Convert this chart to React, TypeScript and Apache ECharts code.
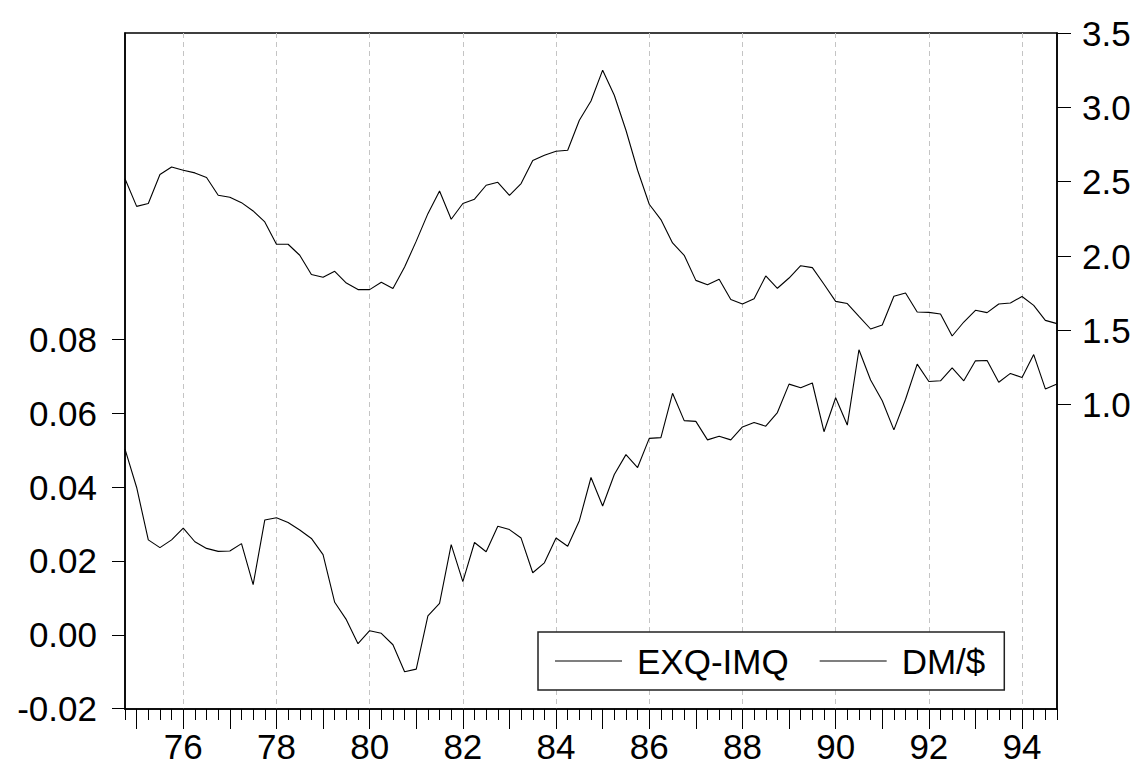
import React, { useEffect, useRef } from "react";
import * as echarts from "echarts";

// Quarterly observations 1974Q4 .. 1994Q4
const startYear = 1974;
const startQuarter = 4;
const quarterCount = 81;
const categories: string[] = [];
for (let i = 0; i < quarterCount; i++) {
  const q = startQuarter - 1 + i;
  categories.push(`${startYear + Math.floor(q / 4)}Q${(q % 4) + 1}`);
}

const exqImq = [
  0.0503, 0.0399, 0.0257, 0.0236, 0.0257, 0.0289, 0.0252, 0.0234, 0.0226, 0.0227,
  0.0247, 0.0136, 0.0311, 0.0317, 0.0304, 0.0284, 0.0261, 0.0217, 0.0088, 0.0041,
  -0.0024, 0.0011, 0.0004, -0.0027, -0.01, -0.0093, 0.0051, 0.0085, 0.0244, 0.0144,
  0.025, 0.0225, 0.0294, 0.0285, 0.0262, 0.0168, 0.0195, 0.0262, 0.024, 0.0309,
  0.0426, 0.0349, 0.0434, 0.0488, 0.0453, 0.0532, 0.0534, 0.0654, 0.058, 0.0578,
  0.0528, 0.0538, 0.0528, 0.0563, 0.0575, 0.0565, 0.0602, 0.0679, 0.0669, 0.0682,
  0.055, 0.0642, 0.0568, 0.0772, 0.069, 0.0634, 0.0555, 0.0638, 0.0733, 0.0686,
  0.0688, 0.0723, 0.0688, 0.0742, 0.0743, 0.0684, 0.0708, 0.0697, 0.0759, 0.0666,
  0.0679,
];

const dmDollar = [
  2.52, 2.334, 2.353, 2.548, 2.599, 2.577, 2.559, 2.528, 2.409, 2.395,
  2.359, 2.303, 2.229, 2.079, 2.079, 2.005, 1.875, 1.857, 1.897, 1.818,
  1.774, 1.774, 1.823, 1.781, 1.926, 2.1, 2.285, 2.437, 2.247, 2.353,
  2.382, 2.476, 2.496, 2.408, 2.487, 2.642, 2.678, 2.705, 2.711, 2.913,
  3.043, 3.25, 3.081, 2.846, 2.577, 2.348, 2.245, 2.088, 2.005, 1.836,
  1.807, 1.843, 1.707, 1.677, 1.713, 1.866, 1.783, 1.852, 1.935, 1.922,
  1.81, 1.695, 1.68, 1.594, 1.509, 1.536, 1.729, 1.751, 1.623, 1.621,
  1.61, 1.462, 1.556, 1.635, 1.619, 1.677, 1.684, 1.728, 1.668, 1.567,
  1.545,
];

const leftTicks = [-0.02, 0.0, 0.02, 0.04, 0.06, 0.08];
const rightTicks = [1.0, 1.5, 2.0, 2.5, 3.0, 3.5];
const seriesNames = ["EXQ-IMQ", "DM/$"];

const FONT = "'Liberation Sans', Arial, sans-serif";

export default function App() {
  const ref = useRef<HTMLDivElement>(null);
  useEffect(() => {
    if (!ref.current) return;
    const chart = echarts.init(ref.current, undefined, { renderer: "svg" });
    const isYearStart = (v: string) => v.endsWith("Q1");
    const isEvenYearStart = (v: string) =>
      v.endsWith("Q1") && parseInt(v.slice(0, 4), 10) % 2 === 0;
    chart.setOption({
      animation: false,
      backgroundColor: "#fff",
      textStyle: { fontFamily: FONT },
      grid: {
        left: 125,
        right: 82,
        top: 33,
        bottom: 58,
        show: true,
        borderColor: "#000",
        borderWidth: 1.5,
        containLabel: false,
      },
      legend: {
        left: 538,
        top: 632,
        orient: "horizontal",
        icon: "rect",
        itemWidth: 67,
        itemHeight: 1.2,
        itemGap: 31,
        padding: [10, 19, 10, 17],
        borderColor: "#222",
        borderWidth: 1.5,
        backgroundColor: "#fff",
        data: seriesNames,
        itemStyle: { color: "#000", borderWidth: 0 },
        textStyle: {
          fontFamily: FONT,
          fontSize: 35,
          color: "#000",
          lineHeight: 38,
          padding: [0, 0, 0, 10],
        },
      },
      xAxis: [
        {
          type: "category",
          data: categories,
          boundaryGap: false,
          position: "bottom",
          axisLine: { show: true, onZero: false, lineStyle: { color: "#000", width: 1.5 } },
          axisTick: { show: true, interval: 0, length: 11, lineStyle: { color: "#000", width: 1 } },
          axisLabel: { show: false },
          splitLine: { show: false },
        },
        {
          type: "category",
          data: categories,
          boundaryGap: false,
          position: "bottom",
          axisLine: { show: false, onZero: false },
          axisTick: {
            show: true,
            length: 20,
            interval: (_i: number, v: string) => isYearStart(v),
            lineStyle: { color: "#000", width: 1 },
          },
          axisLabel: {
            show: true,
            interval: (_i: number, v: string) => isEvenYearStart(v),
            formatter: (v: string) => v.slice(2, 4),
            fontSize: 35,
            fontFamily: FONT,
            color: "#000",
            margin: 20,
          },
          splitLine: {
            show: true,
            interval: (_i: number, v: string) => isEvenYearStart(v),
            lineStyle: { color: "#c4c4c4", width: 1, type: [5, 4] },
          },
        },
      ],
      yAxis: [
        {
          type: "value",
          position: "left",
          min: -0.0201,
          max: 0.163,
          axisLine: { show: true, onZero: false, lineStyle: { color: "#000", width: 1.5 } },
          axisTick: { show: true, length: 13, customValues: leftTicks, lineStyle: { color: "#000" } },
          axisLabel: {
            customValues: leftTicks,
            formatter: (v: number) => v.toFixed(2),
            fontSize: 35,
            fontFamily: FONT,
            color: "#000",
            margin: 28,
          },
          splitLine: { show: false },
        },
        {
          type: "value",
          position: "right",
          min: -1.047,
          max: 3.5,
          axisLine: { show: true, onZero: false, lineStyle: { color: "#000", width: 1.5 } },
          axisTick: { show: true, length: 14, customValues: rightTicks, lineStyle: { color: "#000" } },
          axisLabel: {
            customValues: rightTicks,
            formatter: (v: number) => v.toFixed(1),
            fontSize: 35,
            fontFamily: FONT,
            color: "#000",
            margin: 25,
          },
          splitLine: { show: false },
        },
      ],
      series: [
        {
          name: seriesNames[0],
          type: "line",
          xAxisIndex: 0,
          yAxisIndex: 0,
          data: exqImq,
          symbol: "none",
          lineStyle: { color: "#000", width: 1.1 },
          itemStyle: { color: "#000" },
        },
        {
          name: seriesNames[1],
          type: "line",
          xAxisIndex: 0,
          yAxisIndex: 1,
          data: dmDollar,
          symbol: "none",
          lineStyle: { color: "#000", width: 1.1 },
          itemStyle: { color: "#000" },
        },
      ],
    });
    return () => chart.dispose();
  }, []);
  return (
    <div
      ref={ref}
      style={{ position: "absolute", left: 0, top: 0, width: 1139, height: 767 }}
    />
  );
}
